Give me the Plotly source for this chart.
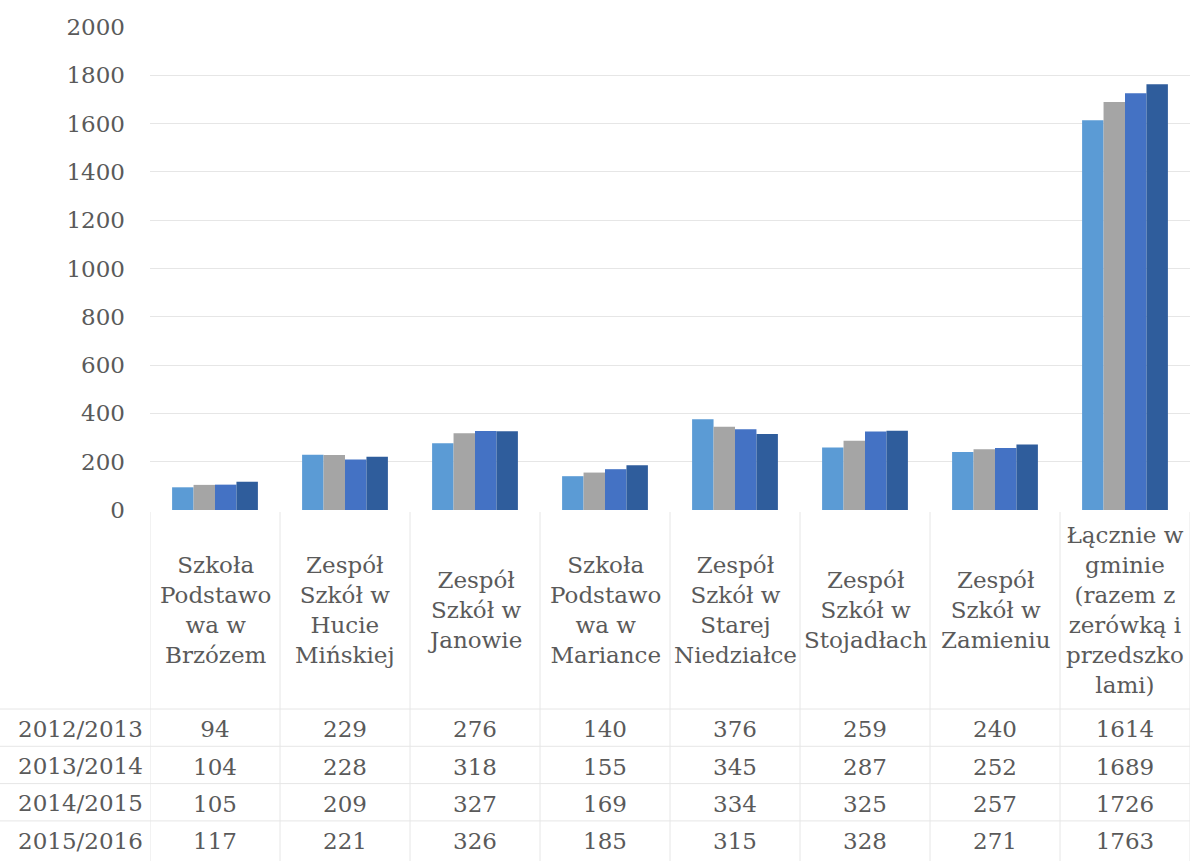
import plotly.graph_objects as go

categories = [
    "Szkoła<br>Podstawo<br>wa w<br>Brzózem",
    "Zespół<br>Szkół w<br>Hucie<br>Mińskiej",
    "Zespół<br>Szkół w<br>Janowie",
    "Szkoła<br>Podstawo<br>wa w<br>Mariance",
    "Zespół<br>Szkół w<br>Starej<br>Niedziałce",
    "Zespół<br>Szkół w<br>Stojadłach",
    "Zespół<br>Szkół w<br>Zamieniu",
    "Łącznie w<br>gminie<br>(razem z<br>zerówką i<br>przedszko<br>lami)",
]
series_names = ["2012/2013", "2013/2014", "2014/2015", "2015/2016"]
v_2012 = [94, 229, 276, 140, 376, 259, 240, 1614]
v_2013 = [104, 228, 318, 155, 345, 287, 252, 1689]
v_2014 = [105, 209, 327, 169, 334, 325, 257, 1726]
v_2015 = [117, 221, 326, 185, 315, 328, 271, 1763]
series_values = [v_2012, v_2013, v_2014, v_2015]
y_ticks = [0, 200, 400, 600, 800, 1000, 1200, 1400, 1600, 1800, 2000]

colors = ["#5b9bd5", "#a5a5a5", "#4472c4", "#2f5d9c"]
FONT = "DejaVu Serif"
TXT = "#5a5a5a"
GRID = "#e6e6e6"
W, H = 1196, 861
ML, MR = 150, 6
PW = W - ML - MR

def py(pix):  # paper y from pixel row
    return 1 - pix / H

xs = list(range(len(categories)))
fig = go.Figure()
for name, vals, c in zip(series_names, series_values, colors):
    fig.add_trace(go.Bar(x=xs, y=vals, name=name, marker=dict(color=c, line_width=0),
                         xaxis="x", yaxis="y", showlegend=False))

# table row text
row_top, row_h = 713, 37.3
for r, (name, vals) in enumerate(zip(series_names, series_values)):
    fig.add_trace(go.Scatter(x=xs, y=[r] * len(xs), mode="text", text=[str(v) for v in vals],
                             textfont=dict(family=FONT, size=23, color=TXT),
                             xaxis="x2", yaxis="y2", showlegend=False, hoverinfo="skip"))

n_rows = len(series_names)
y2_top = (512 - row_top) / row_h - 0.5
y2_bot = (H - row_top) / row_h - 0.5

annotations = []
for i, cat in enumerate(categories):
    annotations.append(dict(x=i, y=py(610), xref="x", yref="paper", text=cat, showarrow=False,
                            xanchor="center", yanchor="middle", align="center",
                            font=dict(family=FONT, size=23, color=TXT)))
for r, name in enumerate(series_names):
    annotations.append(dict(x=-0.5, y=r, xref="x2", yref="y2", text=name, showarrow=False,
                            xanchor="right", yanchor="middle", xshift=-5, yshift=3,
                            font=dict(family=FONT, size=23, color=TXT)))

shapes = []
line = dict(color=GRID, width=1)
# vertical table separators
for b in range(len(categories) + 1):
    shapes.append(dict(type="line", xref="x", yref="paper", x0=b - 0.5, x1=b - 0.5,
                       y0=py(512), y1=0, line=line))
# horizontal table separators
for r in range(n_rows):
    shapes.append(dict(type="line", xref="paper", yref="y2", x0=-ML / PW, x1=1,
                       y0=r - 0.5 - 4 / row_h, y1=r - 0.5 - 4 / row_h, line=line))

fig.update_layout(
    width=W, height=H,
    margin=dict(l=ML, r=MR, t=0, b=0, autoexpand=False),
    paper_bgcolor="white", plot_bgcolor="white",
    barmode="group", bargap=0.34, bargroupgap=0,
    xaxis=dict(domain=[0, 1], range=[-0.5, len(categories) - 0.5], showticklabels=False,
               showgrid=False, zeroline=False, anchor="y", automargin=False),
    yaxis=dict(domain=[py(510), py(27)], range=[0, 2000], tickvals=y_ticks,
               tickfont=dict(family=FONT, size=23, color=TXT), ticklabelstandoff=24,
               showgrid=True, gridcolor=GRID, gridwidth=1, zeroline=False, showline=False,
               automargin=False),
    xaxis2=dict(domain=[0, 1], range=[-0.5, len(categories) - 0.5], visible=False, anchor="y2",
                automargin=False),
    yaxis2=dict(domain=[0, py(512)], range=[y2_bot, y2_top], visible=False, anchor="x2",
                automargin=False),
    annotations=annotations, shapes=shapes,
)
fig.write_html("out.html", config={"displayModeBar": False},
               post_script="document.body.style.margin='0';document.body.style.overflow='hidden';")
